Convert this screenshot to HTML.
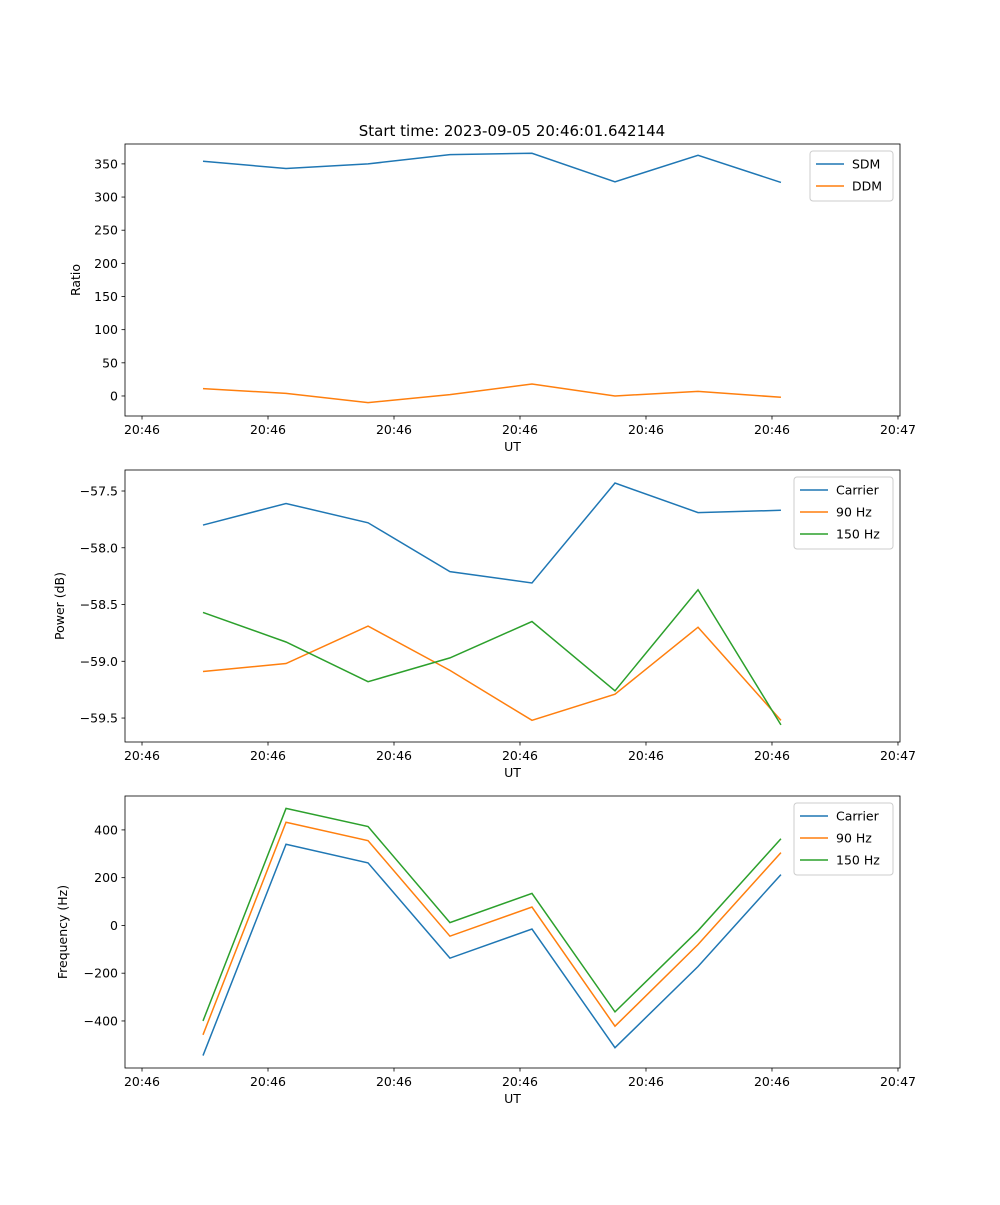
<!DOCTYPE html>
<html><head><meta charset="utf-8"><style>
body{margin:0;background:#fff;font-family:"Liberation Sans","DejaVu Sans",sans-serif}
svg text{font-family:"DejaVu Sans","Liberation Sans",sans-serif;font-size:12.5px;fill:#000}
</style></head><body>
<svg id="chart" width="1000" height="1200" xmlns="http://www.w3.org/2000/svg"></svg>
<script>
const times=[4.84,11.43,17.94,24.44,30.95,37.54,44.13,50.71];
const xTickVals=[0,10,20,30,40,50,60];
const xTickLabels=["20:46","20:46","20:46","20:46","20:46","20:46","20:47"];
const sdm=[354,343,350,364,366,323,363,322];
const ddm=[11,4,-10,2,18,0,7,-2];
const pCarrier=[-57.80,-57.61,-57.78,-58.21,-58.31,-57.43,-57.69,-57.67];
const p90=[-59.09,-59.02,-58.69,-59.08,-59.52,-59.29,-58.70,-59.52];
const p150=[-58.57,-58.83,-59.18,-58.97,-58.65,-59.26,-58.37,-59.56];
const fCarrier=[-545,340,262,-137,-15,-512,-172,213];
const f90=[-458,432,355,-45,77,-422,-80,305];
const f150=[-400,490,414,12,134,-362,-22,363];
const ticks1=[0,50,100,150,200,250,300,350];
const ticks2=[-59.5,-59.0,-58.5,-58.0,-57.5];
const ticks3=[-400,-200,0,200,400];
const C=['#1f77b4','#ff7f0e','#2ca02c'];
const svg=document.getElementById('chart');
const NS='http://www.w3.org/2000/svg';
function mk(tag,attrs,parent){const e=document.createElementNS(NS,tag);for(const k in attrs)e.setAttribute(k,attrs[k]);(parent||svg).appendChild(e);return e;}
const X0=125,X1=900,xmin=-1.35,xmax=60.16;
const xs=v=>X0+(v-xmin)/(xmax-xmin)*(X1-X0);
function panel(name,top,bot,ymin,ymax,yt,fmt,ylabel,series,names,legW){
 const g=mk('g',{});
 
 
 const ys=v=>bot-(v-ymin)/(ymax-ymin)*(bot-top);
 series.forEach((s,i)=>{
  const pl=mk('polyline',{points:s.map((v,j)=>xs(times[j])+','+ys(v)).join(' '),fill:'none',stroke:C[i],'stroke-width':1.5},g);
  
  
 });
 mk('rect',{x:X0,y:top,width:X1-X0,height:bot-top,fill:'none',stroke:'#000','stroke-width':0.8},g);
 xTickVals.forEach((v,i)=>{const x=xs(v);mk('line',{x1:x,x2:x,y1:bot,y2:bot+3.5,stroke:'#000','stroke-width':0.8},g);
  const t=mk('text',{x:x,y:bot+18,'text-anchor':'middle'},g);t.textContent=xTickLabels[i];});
 yt.forEach(v=>{const y=ys(v);mk('line',{x1:X0-3.5,x2:X0,y1:y,y2:y,stroke:'#000','stroke-width':0.8},g);
  const t=mk('text',{x:X0-7,y:y+4.5,'text-anchor':'end'},g);t.textContent=fmt(v);});
 const xl=mk('text',{x:(X0+X1)/2,y:bot+35,'text-anchor':'middle'},g);xl.textContent='UT';
 
 const yx=ylabel==='Ratio'?80:ylabel==='Power (dB)'?64:67;
 const yl=mk('text',{x:yx,y:(top+bot)/2,'text-anchor':'middle',transform:`rotate(-90 ${yx} ${(top+bot)/2})`},g);yl.textContent=ylabel;
 
 const lg=mk('g',{},g);
 
 const lx=X1-7-legW,ly=top+7,lh=names.length*22+6;
 mk('rect',{x:lx,y:ly,width:legW,height:lh,fill:'#fff',stroke:'#ccc',rx:3},lg);
 names.forEach((n,i)=>{const yy=ly+13+i*22;
  mk('line',{x1:lx+6,x2:lx+34,y1:yy,y2:yy,stroke:C[i],'stroke-width':1.5},lg);
  const t=mk('text',{x:lx+42,y:yy+4.5},lg);t.textContent=n;});
}
panel('ratio-panel',144,416,-30.2,380,ticks1,v=>String(v),'Ratio',[sdm,ddm],['SDM','DDM'],83);
panel('power-panel',470,742,-59.711,-57.315,ticks2,v=>'\u2212'+Math.abs(v).toFixed(1),'Power (dB)',[pCarrier,p90,p150],['Carrier','90 Hz','150 Hz'],99);
panel('frequency-panel',796,1068,-597,542,ticks3,v=>v<0?'\u2212'+Math.abs(v):String(v),'Frequency (Hz)',[fCarrier,f90,f150],['Carrier','90 Hz','150 Hz'],99);
const tt=mk('text',{x:512,y:136,'text-anchor':'middle'});
tt.textContent='Start time: 2023-09-05 20:46:01.642144';
tt.setAttribute('style','font-size:15px');


</script>
</body></html>
